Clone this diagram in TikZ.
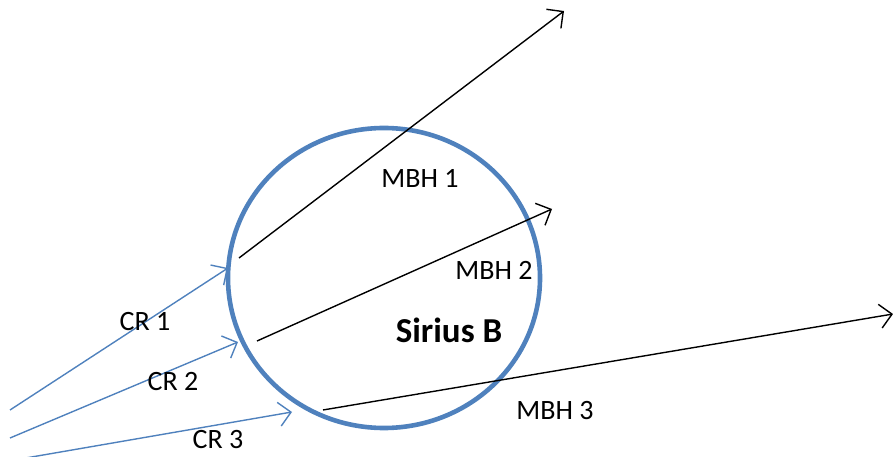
\documentclass[tikz,border=0pt]{standalone}
\usepackage{fontspec}
\setmainfont{Carlito}
\usetikzlibrary{arrows.meta,shapes.geometric}
\definecolor{obl}{RGB}{79,129,189}
\tikzset{
  cr/.style={draw=obl,line width=1.4pt,-{Straight Barb[length=12pt,width=24pt,line width=1.4pt]}},
  mbh/.style={draw=black,line width=1.4pt,-{Straight Barb[length=12pt,width=24pt,line width=1.4pt]}},
  lbl/.style={inner sep=0pt,font=\fontsize{28}{31}\selectfont},
  star/.style={ellipse,draw=obl,line width=4.6pt,minimum width=312pt,minimum height=300pt,inner sep=0pt}
}
\begin{document}
\begin{tikzpicture}[x=1pt,y=1pt]
\useasboundingbox (0,0) rectangle (893,457);
\node[star] (sirius) at (384,179) {};
\node[inner sep=0pt,font=\fontsize{35}{39}\selectfont\bfseries] (name) at (449,127) {Sirius B};
% CR arrows
\coordinate (c1s) at (10,47);
\coordinate (c1e) at (228,189);
\coordinate (c2s) at (10,19);
\coordinate (c2e) at (238,115);
\coordinate (c3s) at (20,-2);
\coordinate (c3e) at (292,45);
\draw[cr] (c1s) -- (c1e);
\draw[cr] (c2s) -- (c2e);
\draw[cr] (c3s) -- (c3e);
% MBH arrows
\coordinate (m1s) at (239,199);
\coordinate (m1e) at (564,446);
\coordinate (m2s) at (257,116);
\coordinate (m2e) at (552,248);
\coordinate (m3s) at (323,47);
\coordinate (m3e) at (893,143);
\draw[mbh] (m1s) -- (m1e);
\draw[mbh] (m2s) -- (m2e);
\draw[mbh] (m3s) -- (m3e);
% labels
\node[lbl] (lcr1) at (145,135) {CR 1};
\node[lbl] (lcr2) at (173,75) {CR 2};
\node[lbl] (lcr3) at (218,17) {CR 3};
\node[lbl] (lm1) at (420,279) {MBH 1};
\node[lbl] (lm2) at (494,187) {MBH 2};
\node[lbl] (lm3) at (555,46) {MBH 3};
\end{tikzpicture}
\end{document}
